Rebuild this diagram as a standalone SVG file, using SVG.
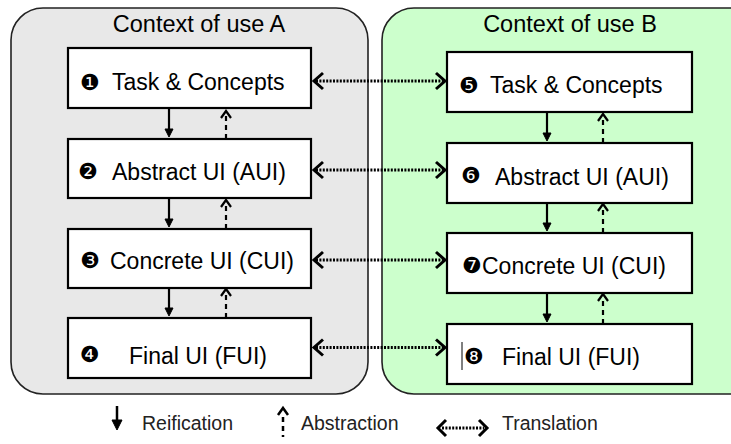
<svg xmlns="http://www.w3.org/2000/svg" width="731" height="444" viewBox="0 0 731 444">
<defs>
<style>
.ctx{stroke:#222;stroke-width:1.6}
.box{fill:#fff;stroke:#000;stroke-width:2.2}
.t{font-family:"Liberation Sans",Arial,sans-serif;font-size:23px;fill:#000}
.h{font-family:"Liberation Sans",Arial,sans-serif;font-size:23.5px;fill:#000}
.b{font-family:"DejaVu Sans",sans-serif;font-size:22px;fill:#000}
.lg{font-family:"Liberation Sans",Arial,sans-serif;font-size:19.5px;fill:#222}
.sol{stroke:#000;stroke-width:2.2;fill:none}
.head{fill:#000;stroke:#000;stroke-width:1;stroke-linejoin:miter}
.das{stroke:#000;stroke-width:2.2;fill:none;stroke-dasharray:5 4}
.dot{stroke:#000;stroke-width:3;fill:none;stroke-dasharray:2 1.4}
.chev{stroke:#000;stroke-width:3;fill:none;stroke-linejoin:miter}
</style>
</defs>
<g id="contextA">
<rect x="11" y="8" width="357" height="386" rx="32" fill="#e8e8e8" class="ctx"/>
<text x="199" y="32" class="h" text-anchor="middle">Context of use A</text>
</g>
<g id="contextB">
<rect x="382" y="8" width="380" height="386" rx="32" fill="#ccffcc" class="ctx"/>
<text x="570" y="32" class="h" text-anchor="middle">Context of use B</text>
</g>
<g id="n1"><rect x="68" y="48" width="243" height="60" class="box"/><text x="80" y="90" class="b">❶</text><text x="112" y="90" class="t">Task &amp; Concepts</text></g>
<g id="n2"><rect x="68" y="139" width="243" height="59" class="box"/><text x="78" y="179" class="b">❷</text><text x="112" y="180" class="t">Abstract UI (AUI)</text></g>
<g id="n3"><rect x="68" y="229" width="243" height="59" class="box"/><text x="80" y="268" class="b">❸</text><text x="110" y="269" class="t">Concrete UI (CUI)</text></g>
<g id="n4"><rect x="68" y="318" width="243" height="60" class="box"/><text x="80" y="362" class="b">❹</text><text x="129" y="364" class="t">Final UI (FUI)</text></g>
<g id="n5"><rect x="447" y="52" width="245" height="60" class="box"/><text x="459" y="93" class="b">❺</text><text x="490" y="93" class="t">Task &amp; Concepts</text></g>
<g id="n6"><rect x="447" y="143" width="245" height="60" class="box"/><text x="461" y="183" class="b">❻</text><text x="495" y="185" class="t">Abstract UI (AUI)</text></g>
<g id="n7"><rect x="447" y="233" width="245" height="60" class="box"/><text x="462" y="273" class="b">❼</text><text x="482" y="274" class="t">Concrete UI (CUI)</text></g>
<g id="n8"><rect x="447" y="324" width="245" height="60" class="box"/><line x1="462" y1="342" x2="462" y2="370" stroke="#000" stroke-width="1"/><text x="464" y="364" class="b">❽</text><text x="502" y="365" class="t">Final UI (FUI)</text></g>
<g id="connectors">
<g class="down">
<line x1="169" y1="109" x2="169" y2="131" class="sol"/><path d="M165,129 L169,137 L173,129 Z" class="head"/>
<line x1="169" y1="199" x2="169" y2="221" class="sol"/><path d="M165,219 L169,227 L173,219 Z" class="head"/>
<line x1="169" y1="289" x2="169" y2="310" class="sol"/><path d="M165,308 L169,316 L173,308 Z" class="head"/>
<line x1="547" y1="113" x2="547" y2="135" class="sol"/><path d="M543,133 L547,141 L551,133 Z" class="head"/>
<line x1="547" y1="204" x2="547" y2="225" class="sol"/><path d="M543,223 L547,231 L551,223 Z" class="head"/>
<line x1="547" y1="294" x2="547" y2="316" class="sol"/><path d="M543,314 L547,322 L551,314 Z" class="head"/>
</g>
<g class="up">
<line x1="226" y1="139" x2="226" y2="113" class="das"/><path d="M221,118 L226,111 L231,118" class="sol"/>
<line x1="226" y1="229" x2="226" y2="203" class="das"/><path d="M221,207 L226,200 L231,207" class="sol"/>
<line x1="226" y1="318" x2="226" y2="292" class="das"/><path d="M221,296 L226,289 L231,296" class="sol"/>
<line x1="603" y1="143" x2="603" y2="117" class="das"/><path d="M598,121 L603,114 L608,121" class="sol"/>
<line x1="603" y1="233" x2="603" y2="207" class="das"/><path d="M598,211 L603,204 L608,211" class="sol"/>
<line x1="603" y1="324" x2="603" y2="298" class="das"/><path d="M598,301 L603,294 L608,301" class="sol"/>
</g>
<g class="trans">
<line x1="316" y1="81" x2="443" y2="81" class="dot"/><path d="M323,73 L314,81 L323,89 M436,73 L445,81 L436,89" class="chev"/>
<line x1="316" y1="170" x2="443" y2="170" class="dot"/><path d="M323,162 L314,170 L323,178 M436,162 L445,170 L436,178" class="chev"/>
<line x1="316" y1="260" x2="443" y2="260" class="dot"/><path d="M323,252 L314,260 L323,268 M436,252 L445,260 L436,268" class="chev"/>
<line x1="316" y1="347.5" x2="443" y2="347.5" class="dot"/><path d="M323,339.5 L314,347.5 L323,355.5 M436,339.5 L445,347.5 L436,355.5" class="chev"/>
</g>
</g>
<g id="legend">
<line x1="117" y1="406" x2="117" y2="422" stroke="#000" stroke-width="2.5"/>
<path d="M112,420 L117,430 L122,420 Z" class="head"/>
<text x="142" y="430" class="lg">Reification</text>
<path d="M278,415 L283,408 L288,415" stroke="#000" stroke-width="2.5" fill="none"/>
<line x1="283" y1="417" x2="283" y2="437" stroke="#000" stroke-width="2.5" stroke-dasharray="5 4"/>
<text x="301" y="430" class="lg">Abstraction</text>
<line x1="442" y1="428" x2="484" y2="428" stroke="#000" stroke-width="3" stroke-dasharray="2 1.4"/>
<path d="M446,420 L438,428 L446,436 M479,420 L487,428 L479,436" class="chev"/>
<text x="502" y="430" class="lg">Translation</text>
</g>
</svg>
